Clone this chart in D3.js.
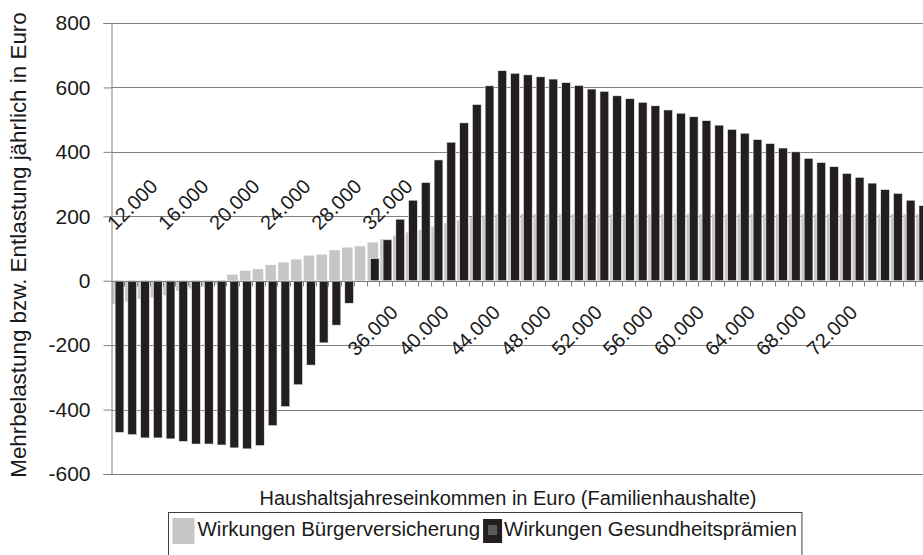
<!DOCTYPE html>
<html>
<head>
<meta charset="utf-8">
<script src="https://cdn.jsdelivr.net/npm/d3@7/dist/d3.min.js"></script>
<style>
  html, body { margin: 0; padding: 0; background: #fff; }
  svg { display: block; }
  text { font-family: Arial, "Liberation Sans", sans-serif; fill: #1a1a1a; }
</style>
</head>
<body>
<svg id="chart" width="923" height="555"></svg>
<script>
// Household annual income categories (Euro)
const incomes = [12000, 13000, 14000, 15000, 16000, 17000, 18000, 19000, 20000, 21000,
  22000, 23000, 24000, 25000, 26000, 27000, 28000, 29000, 30000, 31000,
  32000, 33000, 34000, 35000, 36000, 37000, 38000, 39000, 40000, 41000,
  42000, 43000, 44000, 45000, 46000, 47000, 48000, 49000, 50000, 51000,
  52000, 53000, 54000, 55000, 56000, 57000, 58000, 59000, 60000, 61000,
  62000, 63000, 64000, 65000, 66000, 67000, 68000, 69000, 70000, 71000,
  72000, 73000, 74000, 75000];

// Wirkungen Bürgerversicherung
const buergerValues = [-72, -65, -56, -52, -45, -31, -24, -18, -12, 19,
  31, 36, 49, 57, 66, 78, 81, 95, 103, 107,
  119, 129, 140, 150, 158, 168, 178, 188, 197, 203,
  207, 207, 207, 207, 207, 207, 207, 207, 207, 207,
  207, 207, 207, 207, 207, 207, 207, 207, 207, 207,
  207, 207, 207, 207, 207, 207, 207, 207, 207, 207,
  207, 207, 207, 207];

// Wirkungen Gesundheitsprämien
const praemienValues = [-471, -478, -488, -488, -491, -499, -507, -507, -510, -519,
  -522, -512, -450, -391, -323, -262, -193, -138, -70, 0,
  69, 127, 191, 250, 305, 375, 430, 490, 547, 605,
  652, 644, 639, 633, 626, 615, 606, 595, 588, 574,
  565, 554, 543, 530, 520, 509, 497, 483, 470, 458,
  438, 426, 412, 400, 380, 367, 354, 333, 321, 303,
  283, 271, 250, 233];

const yTicks = [-600, -400, -200, 0, 200, 400, 600, 800];

// Category tick labels as they appear in the picture (two rows)
const topLabels = ["12.000", "16.000", "20.000", "24.000", "28.000", "32.000"];
const topLabelAt = [12000, 16000, 20000, 24000, 28000, 32000];
const bottomLabels = ["36.000", "40.000", "44.000", "48.000", "52.000", "56.000", "60.000", "64.000", "68.000", "72.000"];
const bottomLabelAt = [31000, 35000, 39000, 43000, 47000, 51000, 55000, 59000, 63000, 67000];

const seriesNames = ["Wirkungen Bürgerversicherung", "Wirkungen Gesundheitsprämien"];
const yTitle = "Mehrbelastung bzw. Entlastung jährlich in Euro";
const xTitle = "Haushaltsjahreseinkommen in Euro (Familienhaushalte)";

(function () {
const W = 923, H = 555;
const plotLeft = 111.5, plotTop = 23, plotBottom = 474;
const svg = d3.select("#chart");

const x = d3.scaleBand().domain(incomes).range([plotLeft, plotLeft + incomes.length * 12.76]).padding(0);
const y = d3.scaleLinear().domain([-600, 800]).range([plotBottom, plotTop]);

const GRAY = "#c6c6c6", BLACK = "#231f20", LINE = "#808080";

// gridlines
svg.append("g").selectAll("line").data(yTicks).join("line")
  .attr("x1", plotLeft).attr("x2", W)
  .attr("y1", d => Math.round(y(d)) + 0.5).attr("y2", d => Math.round(y(d)) + 0.5)
  .attr("stroke", LINE).attr("stroke-width", 1);

// gray series (behind)
svg.append("g").selectAll("rect").data(incomes).join("rect")
  .attr("x", d => x(d) + 0.8)
  .attr("width", 10.6)
  .attr("y", (d, i) => y(Math.max(0, buergerValues[i])))
  .attr("height", (d, i) => Math.abs(y(buergerValues[i]) - y(0)))
  .attr("fill", GRAY);

// black series (front)
svg.append("g").selectAll("rect").data(incomes).join("rect")
  .attr("x", d => x(d) + 3.6)
  .attr("width", 8.8)
  .attr("y", (d, i) => y(Math.max(0, praemienValues[i])))
  .attr("height", (d, i) => Math.abs(y(praemienValues[i]) - y(0)))
  .attr("fill", BLACK)
  .attr("stroke", "#f2f2f2").attr("stroke-width", 0.6);

// category axis at zero with tick marks between categories
const zeroY = Math.round(y(0)) + 0.5;
const cat = svg.append("g");
cat.append("line").attr("x1", plotLeft).attr("x2", W).attr("y1", zeroY).attr("y2", zeroY)
  .attr("stroke", LINE).attr("stroke-width", 1);
cat.selectAll("line.t").data(incomes.slice(1)).join("line").attr("class", "t")
  .attr("x1", d => Math.round(x(d)) + 0.5).attr("x2", d => Math.round(x(d)) + 0.5)
  .attr("y1", zeroY).attr("y2", zeroY + 5)
  .attr("stroke", LINE).attr("stroke-width", 1);

// y axis
const yAxis = svg.append("g").attr("transform", `translate(${plotLeft},0)`)
  .call(d3.axisLeft(y).tickValues(yTicks).tickSize(8).tickPadding(13).tickFormat(d => String(d)));
yAxis.select(".domain").attr("stroke", LINE);
yAxis.selectAll(".tick line").attr("stroke", LINE);
yAxis.selectAll(".tick text").attr("font-size", 21).attr("font-family", "Arial, 'Liberation Sans', sans-serif").attr("fill", "#1a1a1a");

// rotated category labels
svg.append("g").selectAll("text").data(topLabels).join("text")
  .attr("transform", (d, i) => "translate(" + (x(topLabelAt[i]) + 4) + ",231) rotate(-45)")
  .attr("font-size", 20).text(d => d);
svg.append("g").selectAll("text").data(bottomLabels).join("text")
  .attr("transform", (d, i) => "translate(" + (x(bottomLabelAt[i]) + 2) + ",357) rotate(-45)")
  .attr("font-size", 20).text(d => d);

// axis titles
svg.append("text").attr("transform", "translate(26,245) rotate(-90)")
  .attr("text-anchor", "middle").attr("font-size", 22.4).text(yTitle);
svg.append("text").attr("x", 508).attr("y", 505)
  .attr("text-anchor", "middle").attr("font-size", 20).text(xTitle);

// legend
const lg = svg.append("g");
const lx = 168.5, ly = 512.5;
const box = lg.append("rect").attr("x", lx).attr("y", ly).attr("height", 60)
  .attr("fill", "#fff").attr("stroke", "#404040").attr("stroke-width", 1);
let cx = lx + 4;
seriesNames.forEach((name, i) => {
  if (i === 0) {
    lg.append("rect").attr("x", cx).attr("y", 518).attr("width", 22).attr("height", 26).attr("fill", GRAY);
  } else {
    lg.append("rect").attr("x", cx).attr("y", 519).attr("width", 19).attr("height", 24).attr("fill", BLACK);
    lg.append("rect").attr("x", cx + 5).attr("y", 525).attr("width", 9).attr("height", 10).attr("fill", "#5a5a5a");
  }
  cx += (i === 0 ? 25 : 21);
  const t = lg.append("text").attr("x", cx).attr("y", 536).attr("font-size", 20.5).text(name);
  cx += t.node().getComputedTextLength() + 3;
});
box.attr("width", cx - lx + 2);
})();
</script>
</body>
</html>
